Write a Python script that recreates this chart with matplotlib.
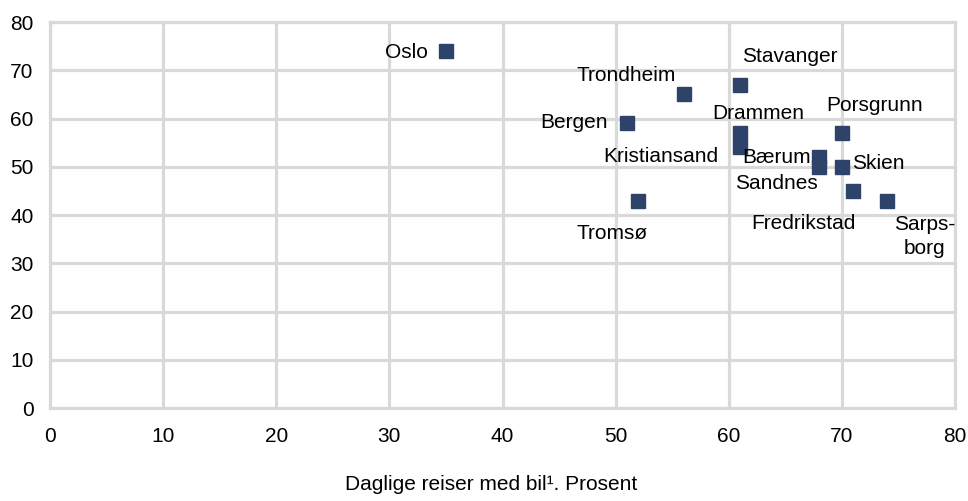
import matplotlib.pyplot as plt

plt.rcParams['font.family'] = ['Liberation Sans', 'DejaVu Sans']

# Share of daily trips by car (x) and city values (y)
cities = ['Oslo', 'Bergen', 'Trondheim', 'Stavanger', 'Drammen', 'Kristiansand',
          'Bærum', 'Sandnes', 'Porsgrunn', 'Skien', 'Fredrikstad', 'Sarpsborg', 'Tromsø']
car_share = [35, 51, 56, 61, 61, 61, 68, 68, 70, 70, 71, 74, 52]
values = [74, 59, 65, 67, 57, 54, 52, 50, 57, 50, 45, 43, 43]

# label placement (data coords) and alignment for each city
label_pos = {
    'Oslo': (33.4, 73.6, 'right'),
    'Bergen': (49.3, 59.1, 'right'),
    'Trondheim': (50.9, 68.9, 'center'),
    'Stavanger': (65.4, 72.9, 'center'),
    'Drammen': (62.6, 61.1, 'center'),
    'Kristiansand': (54.0, 52.1, 'center'),
    'Bærum': (64.25, 51.9, 'center'),
    'Sandnes': (64.25, 46.5, 'center'),
    'Porsgrunn': (72.9, 62.6, 'center'),
    'Skien': (70.9, 50.6, 'left'),
    'Fredrikstad': (66.6, 38.3, 'center'),
    'Sarpsborg': (77.3, 35.5, 'center'),
    'Tromsø': (49.7, 36.1, 'center'),
}
label_text = {'Sarpsborg': 'Sarps-\nborg'}

fig = plt.figure(figsize=(9.68, 5.01), dpi=100)
ax = fig.add_axes([0.0517, 0.1856, 0.9349, 0.7704])

grid_color = '#D9D9D9'
ax.set_xlim(0, 80)
ax.set_ylim(0, 80)
ax.set_xticks(range(0, 81, 10))
ax.set_yticks(range(0, 81, 10))
ax.grid(True, color=grid_color, linewidth=2.3)
ax.set_axisbelow(True)
for s in ax.spines.values():
    s.set_color(grid_color)
    s.set_linewidth(2.3)
ax.tick_params(length=0, labelsize=15, colors='black')
ax.tick_params(axis='x', pad=14)
ax.tick_params(axis='y', pad=12)

ax.plot(car_share, values, linestyle='none', marker='s', markersize=10.5,
        color='#2E4369', clip_on=False, zorder=3)

for name in cities:
    x, y, ha = label_pos[name]
    ax.text(x, y, label_text.get(name, name), fontsize=15, ha=ha, va='center',
            linespacing=1.3, zorder=4)

fig.text(491 / 968, 1 - 485 / 501, 'Daglige reiser med bil¹. Prosent',
         fontsize=15, ha='center', va='center')

fig.savefig('out.png', dpi=100, facecolor='white')
